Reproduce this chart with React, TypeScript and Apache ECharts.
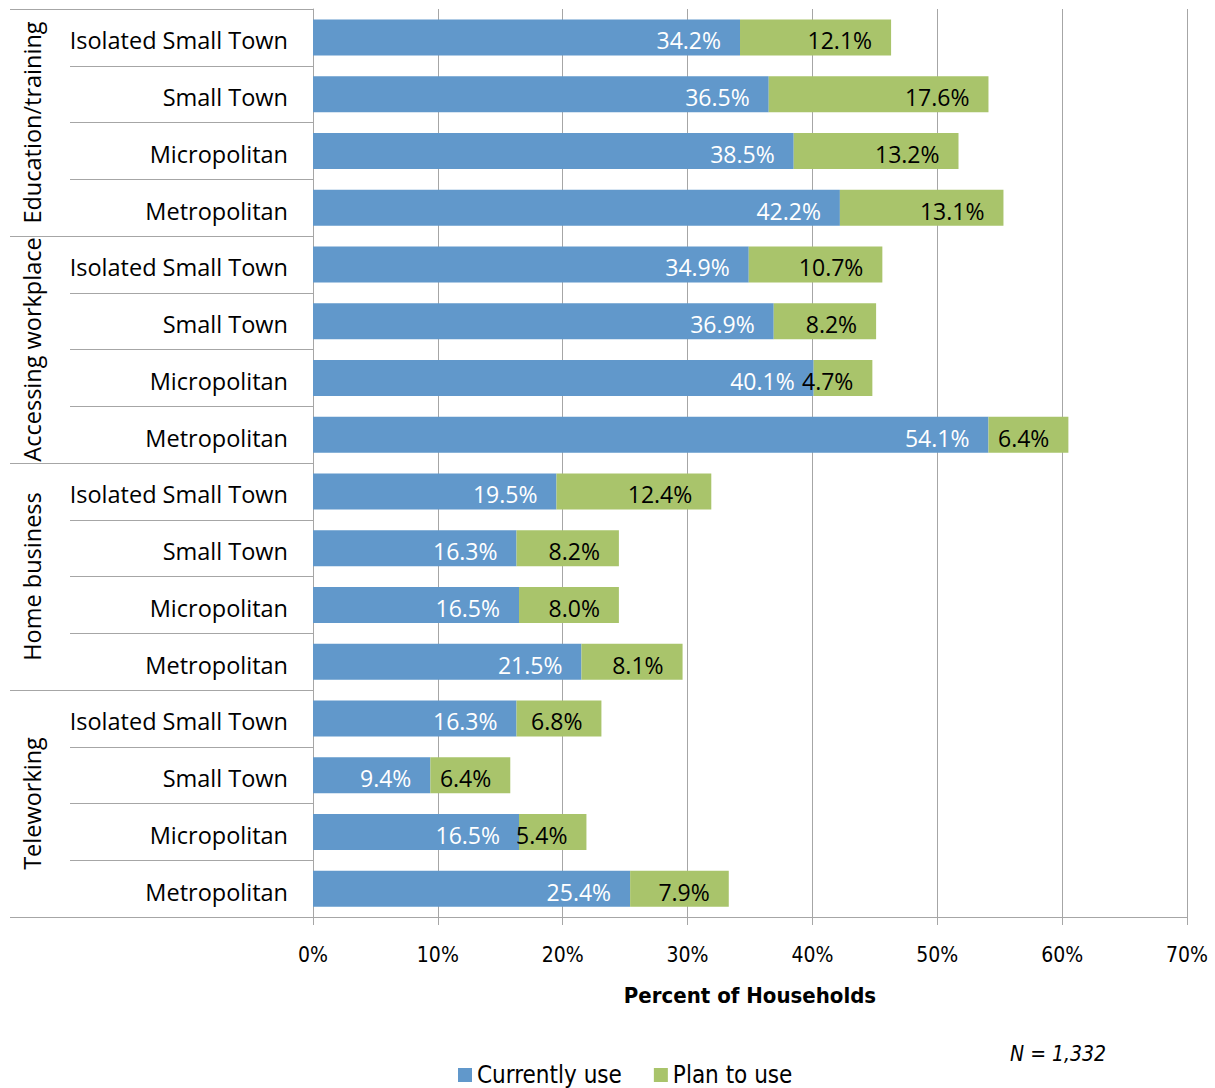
import React, { useEffect, useRef } from "react";
import * as echarts from "echarts";

// Activity groups (top to bottom) and community types within each group
const groups = ["Education/training", "Accessing workplace", "Home business", "Teleworking"];
const towns = ["Isolated Small Town", "Small Town", "Micropolitan", "Metropolitan"];

// Percent of households, listed group by group in the order above
const currentlyUse = [
  34.2, 36.5, 38.5, 42.2,
  34.9, 36.9, 40.1, 54.1,
  19.5, 16.3, 16.5, 21.5,
  16.3, 9.4, 16.5, 25.4,
];
const planToUse = [
  12.1, 17.6, 13.2, 13.1,
  10.7, 8.2, 4.7, 6.4,
  12.4, 8.2, 8.0, 8.1,
  6.8, 6.4, 5.4, 7.9,
];

const rows = groups.flatMap(() => towns);

const BLUE = "#6198CB";
const GREEN = "#A9C46B";
const GRID_GRAY = "#A6A6A6";
const FONT = "'Open Sans', sans-serif";
const NARROW = "'Liberation Sans Narrow', 'DejaVu Sans Condensed', 'Open Sans', sans-serif";

export default function App() {
  const ref = useRef<HTMLDivElement>(null);

  useEffect(() => {
    document.body.style.margin = "0";
    if (!ref.current) return;
    const chart = echarts.init(ref.current, undefined, { renderer: "svg" });

    const pct = (p: any) => `${Number(p.value).toFixed(1)}%`;

    chart.setOption({
      animation: false,
      backgroundColor: "#ffffff",
      grid: { left: 313, right: 28, top: 9, bottom: 171 },
      legend: {
        left: 453,
        top: 1058,
        icon: "rect",
        itemWidth: 14,
        itemHeight: 14,
        itemGap: 32,
        textStyle: { fontFamily: NARROW, fontSize: 24, color: "#000" },
        data: ["Currently use", "Plan to use"],
      },
      xAxis: {
        type: "value",
        min: 0,
        max: 70,
        interval: 10,
        axisLine: { show: true, lineStyle: { color: GRID_GRAY } },
        axisTick: { show: true, length: 8, lineStyle: { color: GRID_GRAY } },
        splitLine: { show: true, lineStyle: { color: GRID_GRAY, width: 1 } },
        axisLabel: {
          formatter: "{value}%",
          fontFamily: NARROW,
          fontSize: 21,
          color: "#000",
          margin: 27,
        },
        name: "Percent of Households",
        nameLocation: "middle",
        nameGap: 67,
        nameTextStyle: {
          fontFamily: NARROW,
          fontSize: 22,
          fontWeight: "bold",
          color: "#000",
        },
      },
      yAxis: [
        {
          type: "category",
          inverse: true,
          data: rows,
          axisLine: { show: true, lineStyle: { color: GRID_GRAY } },
          axisTick: { show: true, length: 243, lineStyle: { color: GRID_GRAY } },
          axisLabel: {
            interval: 0,
            margin: 25,
            formatter: (v: string) => `{t|${v}}`,
            rich: {
              t: {
                fontFamily: FONT,
                fontSize: 23.5,
                color: "#000",
                padding: [6, 0, 0, 0],
              },
            },
          },
        },
        {
          type: "category",
          inverse: true,
          position: "left",
          data: groups,
          axisLine: { show: false },
          axisTick: { show: true, length: 303, lineStyle: { color: GRID_GRAY } },
          axisLabel: {
            interval: 0,
            rotate: 90,
            fontFamily: FONT,
            fontSize: 23.5,
            color: "#000",
            margin: 269,
          },
        },
      ],
      series: [
        {
          name: "Currently use",
          type: "bar",
          stack: "total",
          yAxisIndex: 0,
          barWidth: 36,
          data: currentlyUse,
          itemStyle: { color: BLUE },
          label: {
            show: true,
            position: "insideRight",
            distance: 19,
            offset: [0, 3],
            formatter: pct,
            fontFamily: FONT,
            fontSize: 23,
            color: "#ffffff",
          },
        },
        {
          name: "Plan to use",
          type: "bar",
          stack: "total",
          yAxisIndex: 0,
          barWidth: 36,
          data: planToUse,
          itemStyle: { color: GREEN },
          label: {
            show: true,
            position: "insideRight",
            distance: 19,
            offset: [0, 3],
            formatter: pct,
            fontFamily: FONT,
            fontSize: 23,
            color: "#000000",
          },
        },
      ],
      graphic: [
        {
          type: "text",
          left: 1010,
          top: 1043,
          style: {
            text: "N = 1,332",
            fontFamily: NARROW,
            fontStyle: "italic",
            fontSize: 21,
            fill: "#000",
          },
        },
      ],
    });

    return () => chart.dispose();
  }, []);

  return <div ref={ref} style={{ width: 1215, height: 1088 }} />;
}
